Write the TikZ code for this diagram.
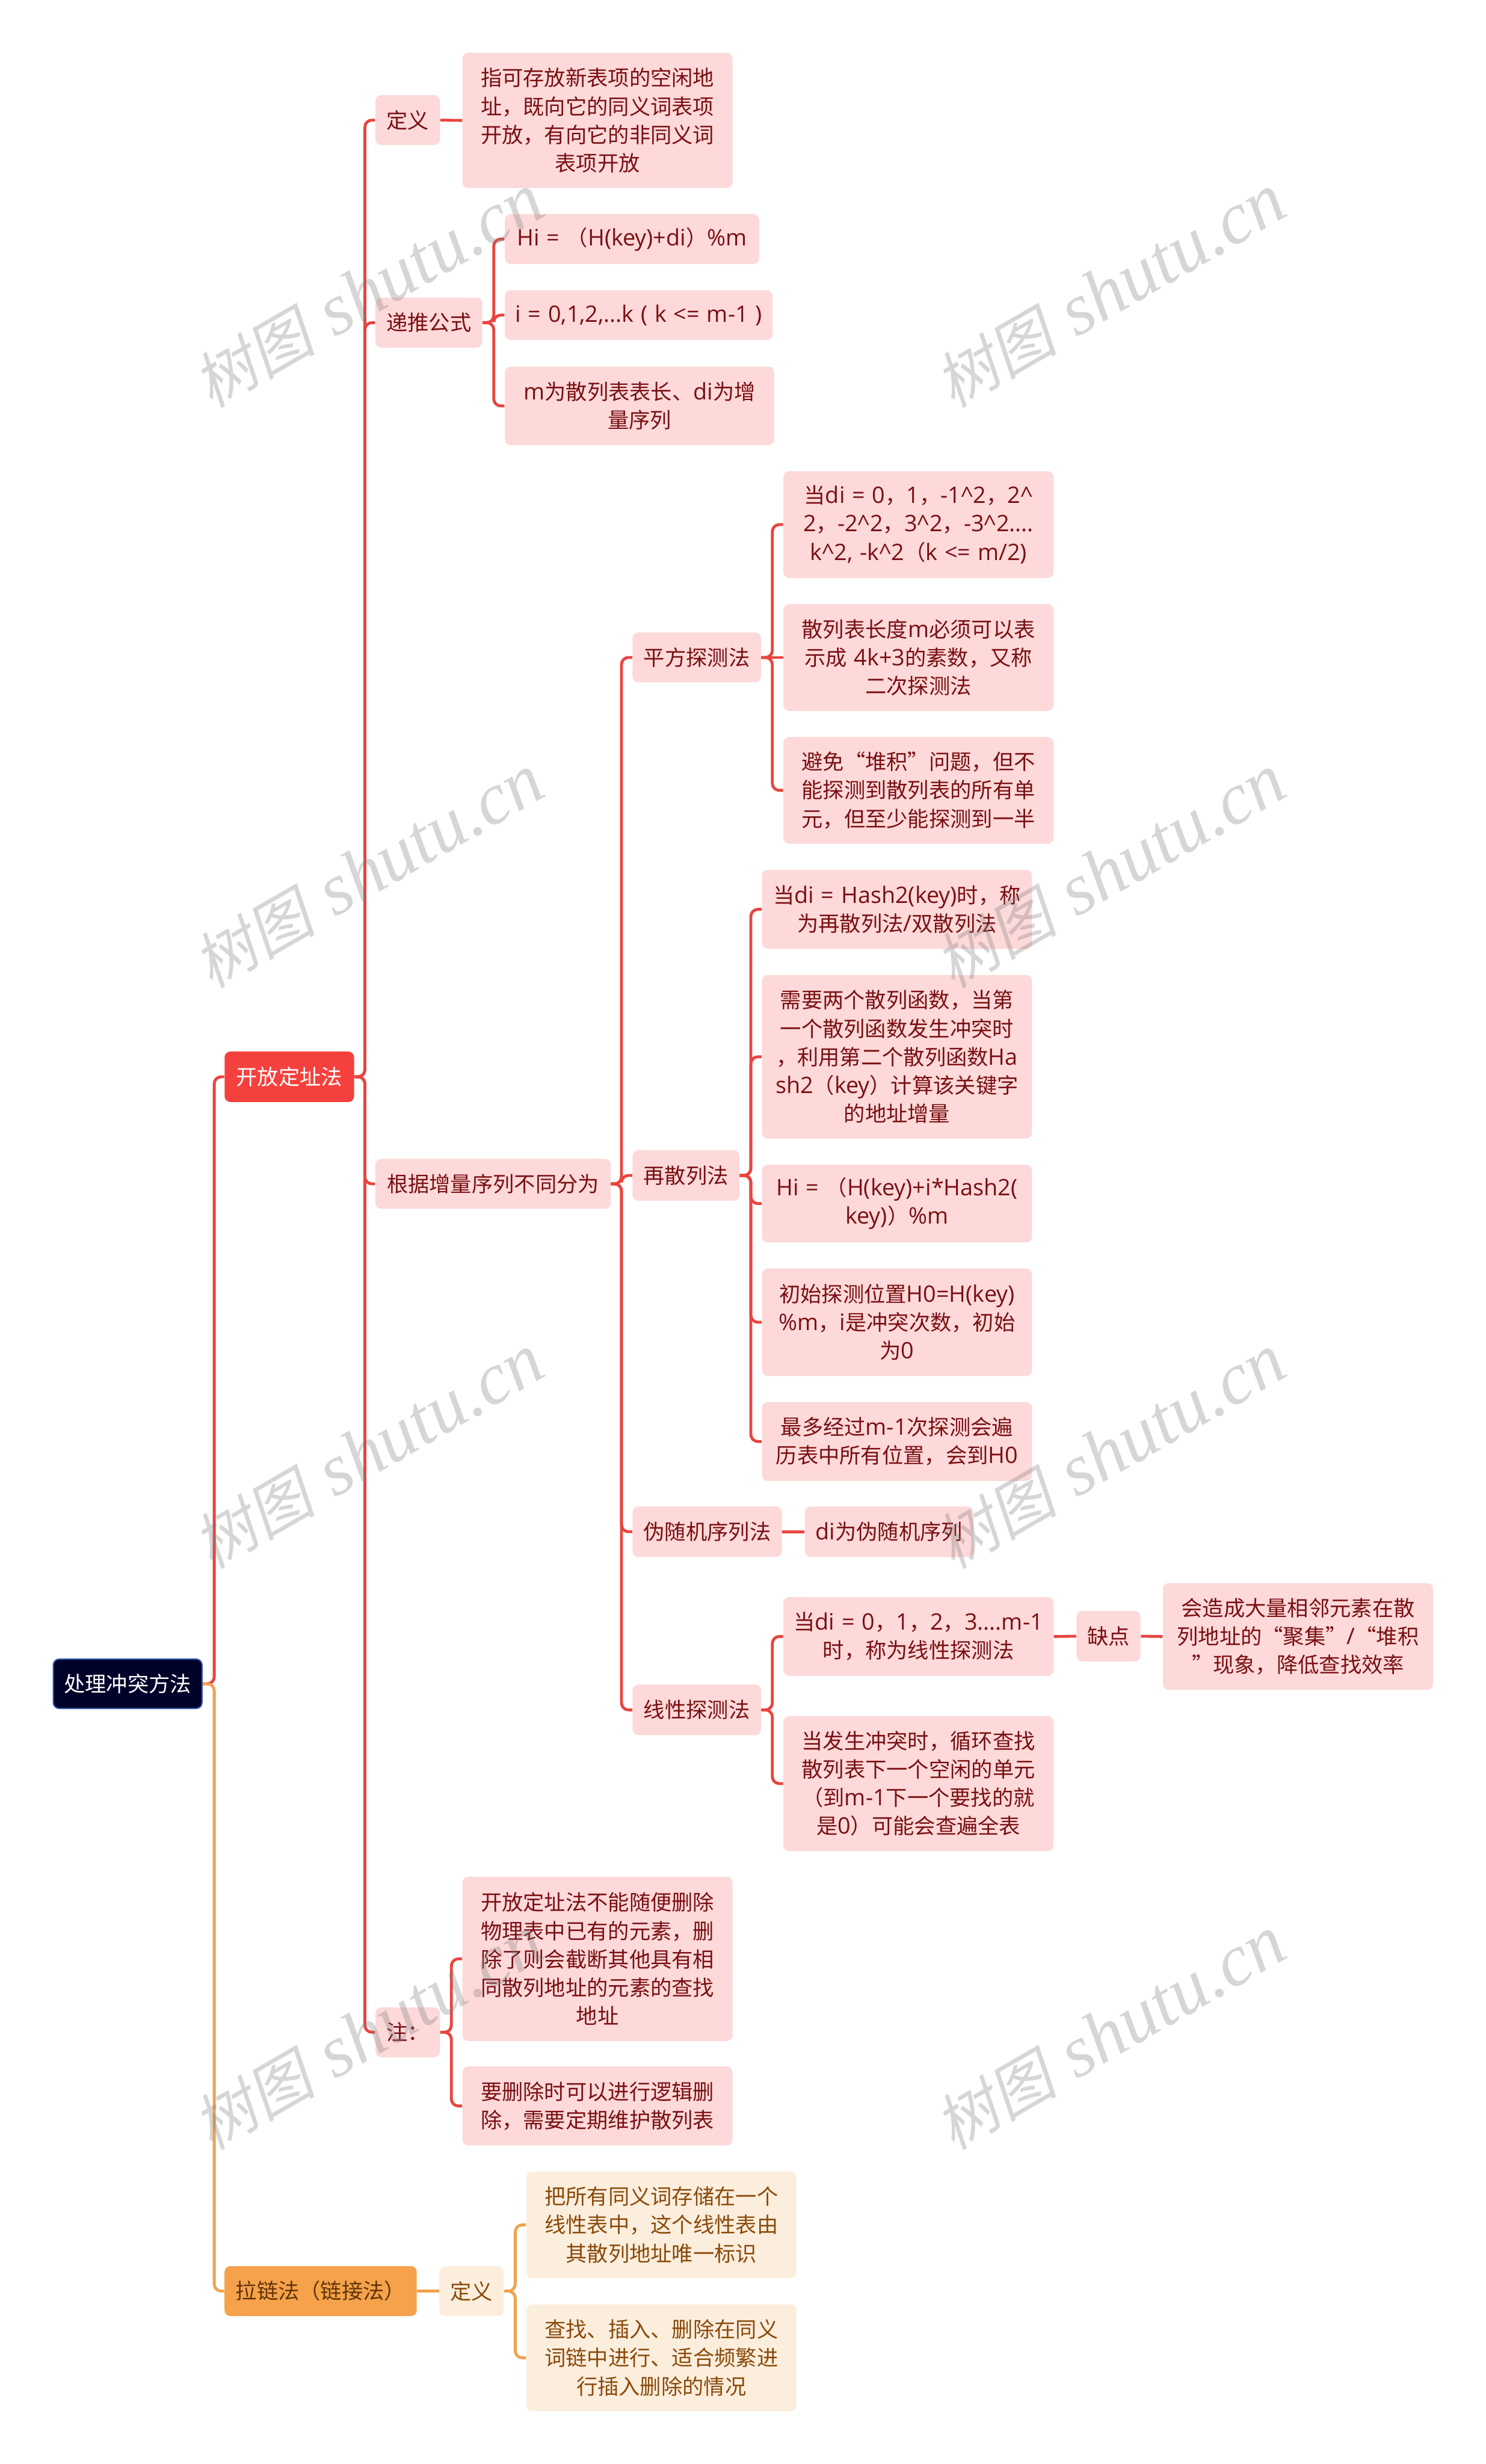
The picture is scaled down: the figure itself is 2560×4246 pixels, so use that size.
\documentclass[tikz,border=0pt]{standalone}
\usepackage{fontspec}
\setmainfont{Noto Sans CJK SC}
\newfontfamily\wmcjk[FakeSlant=0.2]{Noto Sans CJK SC}
\newfontfamily\wmlat{Liberation Serif}
\newfontfamily\latf[Scale=1.07,WordSpace=1.2]{Open Sans}
\usepackage{tikz}
\usetikzlibrary{arrows,shapes}
\definecolor{rootfill}{HTML}{000229}
\definecolor{rootline}{HTML}{2F56B0}
\definecolor{redfill}{HTML}{F5413D}
\definecolor{redline}{HTML}{E8453F}
\definecolor{pinkfill}{HTML}{FDD9D9}
\definecolor{pinktext}{HTML}{7A0F12}
\definecolor{orgfill}{HTML}{F5A24B}
\definecolor{orgline}{HTML}{EFA24F}
\definecolor{creamfill}{HTML}{FCEEDD}
\definecolor{creamtext}{HTML}{8A4A0B}
\newcommand{\crt}{\textasciicircum}
\newcommand{\la}[1]{{\latf #1}}
\tikzset{wh/.style 2 args={minimum width=#1cm,minimum height=#2cm}}

\begin{document}
\begin{tikzpicture}[x=0.01cm,y=-0.01cm]
\tikzstyle{every node}=[align=center,inner sep=0pt,rounded corners=0.1cm,font=\fontsize{10.4}{13.9}\selectfont];
\tikzstyle{rootbox}=[fill=rootfill,draw=rootline,line width=0.6pt,text=white];
\tikzstyle{redbox}=[fill=redfill,text=white];
\tikzstyle{orgbox}=[fill=orgfill,text=creamtext!70!black];
\tikzstyle{pk}=[fill=pinkfill,text=pinktext];
\tikzstyle{cr}=[fill=creamfill,text=creamtext];
\tikzstyle{rl}=[draw=redline,line width=0.05cm,rounded corners=0.12cm];
\tikzstyle{ol}=[draw=orgline,line width=0.05cm,rounded corners=0.12cm];
\useasboundingbox (0,0) rectangle (2560,4246);
\node [rootbox,wh={2.56}{0.85}] (root) at (220,2901.5) {处理冲突方法};
\node [redbox,wh={2.23}{0.87}] (kf) at (498.5,1855.5) {开放定址法};
\node [orgbox,wh={3.31}{0.86}] (ll) at (552.5,3948) {拉链法（链接法）};
% open addressing
\node [pk,wh={1.11}{0.86}] (dy) at (702.5,207) {定义};
\node [pk,wh={4.65}{2.33}] (dy1) at (1029.5,207.5) {指可存放新表项的空闲地\\址，既向它的同义词表项\\开放，有向它的非同义词\\表项开放};
\node [pk,wh={1.84}{0.86}] (dt) at (739,556) {递推公式};
\node [pk,wh={4.38}{0.86}] (dt1) at (1089,412) {\la{Hi = }（\la{H(key)+di}）\la{\%m}};
\node [pk,wh={4.61}{0.86}] (dt2) at (1100.5,543) {\la{i = 0,1,2,...k ( k <= m-1 )}};
\node [pk,wh={4.64}{1.35}] (dt3) at (1102,699.5) {\la{m}为散列表表长、\la{di}为增\\量序列};
\node [pk,wh={4.05}{0.86}] (gj) at (849.5,2040) {根据增量序列不同分为};
\node [pk,wh={2.21}{0.86}] (pf) at (1200.5,1133) {平方探测法};
\node [pk,wh={4.65}{1.84}] (pf1) at (1582.5,904) {当\la{di = 0}，\la{1}，\la{-1\crt2}，\la{2\crt}\\\la{2}，\la{-2\crt2}，\la{3\crt2}，\la{-3\crt2....}\\\la{k\crt2, -k\crt2}（\la{k <= m/2)}};
\node [pk,wh={4.65}{1.84}] (pf2) at (1582.5,1133) {散列表长度\la{m}必须可以表\\示成\la{ 4k+3}的素数，又称\\二次探测法};
\node [pk,wh={4.65}{1.84}] (pf3) at (1582.5,1362) {避免“堆积”问题，但不\\能探测到散列表的所有单\\元，但至少能探测到一半};
\node [pk,wh={1.84}{0.87}] (zs) at (1182,2025.5) {再散列法};
\node [pk,wh={4.65}{1.36}] (zs1) at (1545.5,1567) {当\la{di = Hash2(key)}时，称\\为再散列法\la{/}双散列法};
\node [pk,wh={4.65}{2.82}] (zs2) at (1545.5,1821) {需要两个散列函数，当第\\一个散列函数发生冲突时\\，利用第二个散列函数\la{Ha}\\\la{sh2}（\la{key}）计算该关键字\\的地址增量};
\node [pk,wh={4.65}{1.34}] (zs3) at (1545.5,2074) {\la{Hi = }（\la{H(key)+i*Hash2(}\\\la{key)}）\la{\%m}};
\node [pk,wh={4.65}{1.85}] (zs4) at (1545.5,2278.5) {初始探测位置\la{H0=H(key)}\\\la{\%m}，\la{i}是冲突次数，初始\\为\la{0}};
\node [pk,wh={4.65}{1.36}] (zs5) at (1545.5,2484) {最多经过\la{m-1}次探测会遍\\历表中所有位置，会到\la{H0}};
\node [pk,wh={2.57}{0.87}] (wsj) at (1218.5,2639.5) {伪随机序列法};
\node [pk,wh={2.90}{0.87}] (wsj1) at (1532,2639.5) {\la{di}为伪随机序列};
\node [pk,wh={2.21}{0.87}] (xx) at (1200.5,2946.5) {线性探测法};
\node [pk,wh={4.65}{1.36}] (xx1) at (1582.5,2820) {当\la{di = 0}，\la{1}，\la{2}，\la{3....m-1}\\时，称为线性探测法};
\node [pk,wh={1.10}{0.87}] (qd) at (1910,2819.5) {缺点};
\node [pk,wh={4.65}{1.84}] (qd1) at (2236.5,2820) {会造成大量相邻元素在散\\列地址的“聚集”\la{/}“堆积\\”现象，降低查找效率};
\node [pk,wh={4.65}{2.33}] (xx2) at (1582.5,3073.5) {当发生冲突时，循环查找\\散列表下一个空闲的单元\\（到\la{m-1}下一个要找的就\\是\la{0}）可能会查遍全表};
\node [pk,wh={1.11}{0.86}] (zhu) at (702.5,3502) {注：};
\node [pk,wh={4.65}{2.83}] (zhu1) at (1029.5,3375.5) {开放定址法不能随便删除\\物理表中已有的元素，删\\除了则会截断其他具有相\\同散列地址的元素的查找\\地址};
\node [pk,wh={4.65}{1.36}] (zhu2) at (1029.5,3629) {要删除时可以进行逻辑删\\除，需要定期维护散列表};
% chaining
\node [cr,wh={1.11}{0.86}] (dy2) at (812.5,3948) {定义};
\node [cr,wh={4.65}{1.84}] (dy21) at (1139.5,3834) {把所有同义词存储在一个\\线性表中，这个线性表由\\其散列地址唯一标识};
\node [cr,wh={4.65}{1.84}] (dy22) at (1139.5,4063) {查找、插入、删除在同义\\词链中进行、适合频繁进\\行插入删除的情况};
% red lines
\draw [rl] (root.east) -- ++(20,0) |- (kf.west);
\draw [rl] (kf.east) -- ++(18,0) |- (dy.west);
\draw [rl] (kf.east) -- ++(18,0) |- (dt.west);
\draw [rl] (kf.east) -- ++(18,0) |- (gj.west);
\draw [rl] (kf.east) -- ++(18,0) |- (zhu.west);
\draw [rl] (dy.east) -- (dy1.west);
\draw [rl] (dt.east) -- ++(19,0) |- (dt1.west);
\draw [rl] (dt.east) -- ++(19,0) |- (dt2.west);
\draw [rl] (dt.east) -- ++(19,0) |- (dt3.west);
\draw [rl] (gj.east) -- ++(18,0) |- (pf.west);
\draw [rl] (gj.east) -- ++(18,0) |- (zs.west);
\draw [rl] (gj.east) -- ++(18,0) |- (wsj.west);
\draw [rl] (gj.east) -- ++(18,0) |- (xx.west);
\draw [rl] (pf.east) -- ++(19,0) |- (pf1.west);
\draw [rl] (pf.east) -- (pf2.west);
\draw [rl] (pf.east) -- ++(19,0) |- (pf3.west);
\draw [rl] (zs.east) -- ++(19,0) |- (zs1.west);
\draw [rl] (zs.east) -- ++(19,0) |- (zs2.west);
\draw [rl] (zs.east) -- ++(19,0) |- (zs3.west);
\draw [rl] (zs.east) -- ++(19,0) |- (zs4.west);
\draw [rl] (zs.east) -- ++(19,0) |- (zs5.west);
\draw [rl] (wsj.east) -- (wsj1.west);
\draw [rl] (xx.east) -- ++(19,0) |- (xx1.west);
\draw [rl] (xx.east) -- ++(19,0) |- (xx2.west);
\draw [rl] (xx1.east) -- (qd.west);
\draw [rl] (qd.east) -- (qd1.west);
\draw [rl] (zhu.east) -- ++(19,0) |- (zhu1.west);
\draw [rl] (zhu.east) -- ++(19,0) |- (zhu2.west);
% orange lines
\draw [ol] (root.east) -- ++(20,0) |- (ll.west);
\draw [ol] (ll.east) -- (dy2.west);
\draw [ol] (dy2.east) -- ++(19,0) |- (dy21.west);
\draw [ol] (dy2.east) -- ++(19,0) |- (dy22.west);
% watermark
\tikzstyle{wm}=[rotate=30,text=gray,opacity=0.32,font=\normalfont,rounded corners=0pt];
\foreach \n/\px/\py in {a/635/502,b/1913/502,c/635/1502,d/1913/1502,e/635/2502,f/1913/2502,g/635/3504,h/1913/3504}
  \node [wm] (wm\n) at (\px,\py) {{\fontsize{30}{35}\wmcjk 树图}\hspace{0.35cm}{\fontsize{36}{42}\wmlat\itshape shutu.cn}};
\end{tikzpicture}
\end{document}
